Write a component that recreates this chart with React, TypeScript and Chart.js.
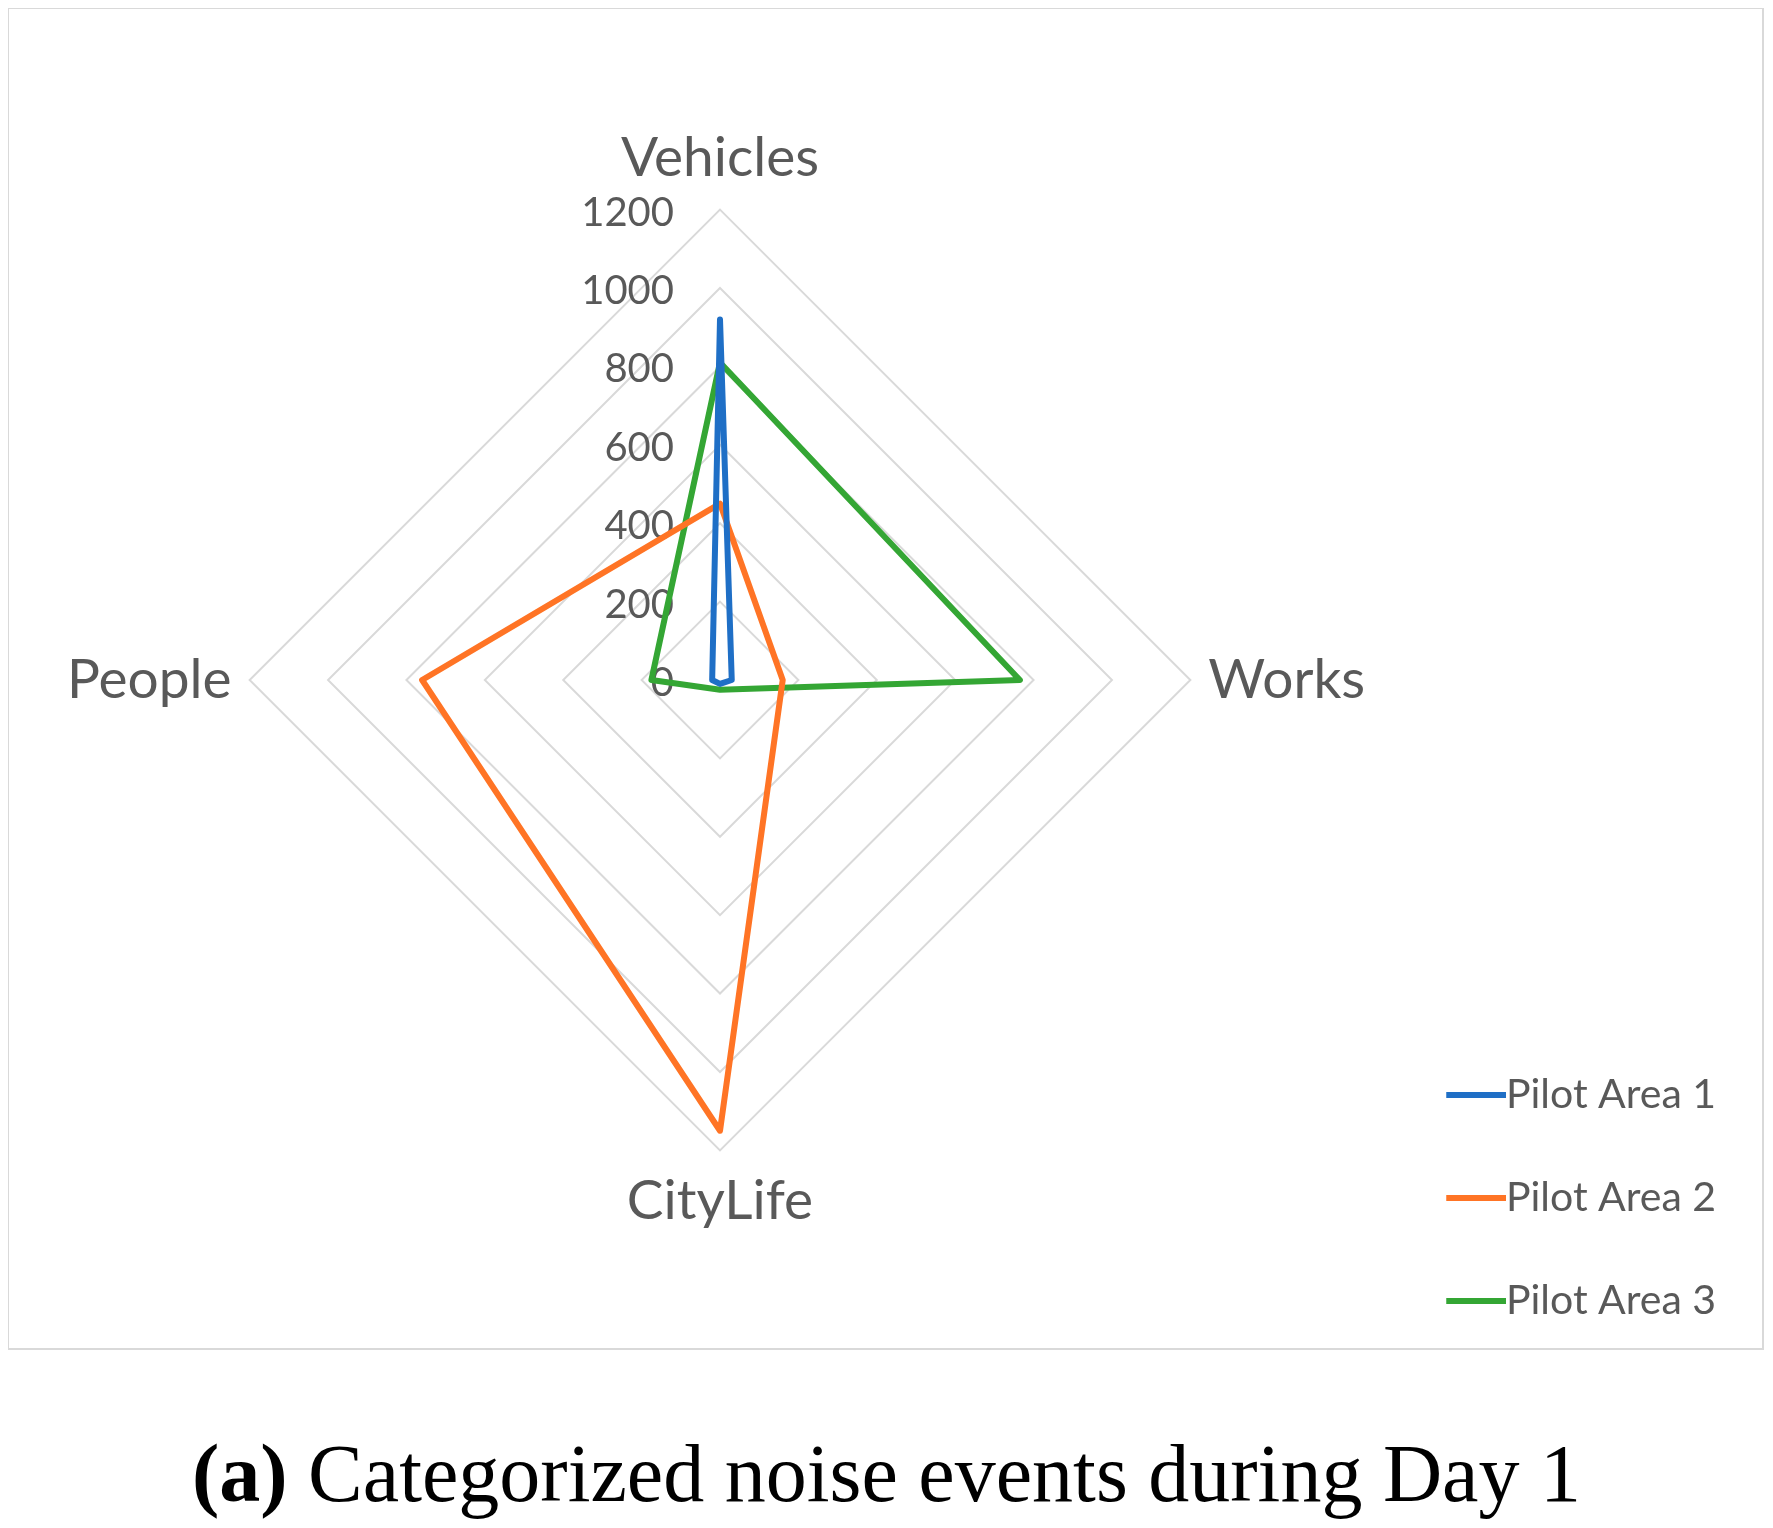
import React, { useEffect, useRef } from "react";
import { Chart, registerables } from "chart.js";

Chart.register(...registerables);

const categories = ["Vehicles", "Works", "CityLife", "People"];
const seriesNames = ["Pilot Area 1", "Pilot Area 2", "Pilot Area 3"];
const pilotArea1 = [920, 30, 10, 20];
const pilotArea2 = [450, 160, 1150, 760];
const pilotArea3 = [810, 765, 25, 175];
const seriesColors = ["#1F6FC6", "#FF7425", "#34A634"];
const tickMin = 0;
const tickMax = 1200;
const tickStep = 200;
const caption = "Categorized noise events during Day 1";

const CANVAS_W = 1751;
const CANVAS_H = 1406;
const LEGEND_FONT = 41;
const LEGEND_BOX = 53.5;
const LEGEND_TEXT_X = 1496;

function makeLineImage(color: string) {
  const w = Math.round(LEGEND_BOX + LEGEND_FONT);
  const c = document.createElement("canvas");
  c.width = w;
  c.height = 6;
  const g = c.getContext("2d")!;
  g.fillStyle = color;
  g.fillRect(w - 60, 0, 60, 6);
  return c;
}

const tickLabelPlugin = {
  id: "tickLabelsLeft",
  beforeDatasetsDraw(chart: any) {
    const scale = chart.scales.r;
    const ctx = chart.ctx;
    ctx.save();
    ctx.font = "40px Lato";
    ctx.fillStyle = "#595959";
    ctx.textAlign = "right";
    ctx.textBaseline = "middle";
    scale.ticks.forEach((t: any) => {
      const d = scale.getDistanceFromCenterForValue(t.value);
      ctx.fillText(String(t.value), scale.xCenter - 46, scale.yCenter - d + 3);
    });
    ctx.restore();
  },
};

export default function App() {
  const ref = useRef<HTMLCanvasElement | null>(null);
  useEffect(() => {
    if (!ref.current) return;
    const images = seriesColors.map(makeLineImage);
    const values = [pilotArea1, pilotArea2, pilotArea3];
    const mctx = document.createElement("canvas").getContext("2d")!;
    mctx.font = `normal ${LEGEND_FONT}px Lato`;
    const tw = Math.max(...seriesNames.map((s) => mctx.measureText(s).width));
    const padRight = Math.max(0, CANVAS_W - (LEGEND_TEXT_X + 10) - tw);
    const chart = new Chart(ref.current, {
      type: "radar",
      data: {
        labels: categories,
        datasets: values.map((v, i) => ({
          label: seriesNames[i],
          data: v,
          borderColor: seriesColors[i],
          backgroundColor: seriesColors[i],
          borderWidth: 6,
          borderJoinStyle: "round" as const,
          fill: false,
          pointRadius: 0,
          pointHoverRadius: 0,
          tension: 0,
        })),
      },
      options: {
        animation: false,
        responsive: false,
        devicePixelRatio: 1,
        layout: { padding: { left: 54, right: padRight, top: 0, bottom: 0 } },
        plugins: {
          tooltip: { enabled: false },
          legend: {
            position: "right",
            align: "end",
            labels: {
              usePointStyle: true,
              pointStyleWidth: LEGEND_BOX,
              padding: 103 - LEGEND_FONT,
              color: "#595959",
              font: { family: "Lato", size: LEGEND_FONT },
              generateLabels: (c: any) => {
                const items = (Chart as any).defaults.plugins.legend.labels.generateLabels(c);
                return items.map((it: any, i: number) => ({ ...it, pointStyle: images[i] }));
              },
            },
          },
        },
        scales: {
          r: {
            min: tickMin,
            max: tickMax,
            ticks: { stepSize: tickStep, display: false },
            grid: { color: "#D9D9D9", lineWidth: 2, circular: false },
            angleLines: { display: false },
            pointLabels: {
              color: "#595959",
              padding: 18,
              font: { family: "Lato", size: 55 },
            },
          },
        },
      },
      plugins: [tickLabelPlugin],
    });
    return () => chart.destroy();
  }, []);

  return (
    <div style={{ position: "relative", width: 1757, height: 1512 }}>
      <div
        style={{
          position: "absolute",
          left: -1,
          top: -1,
          width: 1757,
          height: 1343,
          border: "2px solid #D9D9D9",
          boxSizing: "border-box",
        }}
      />
      <canvas
        ref={ref}
        width={CANVAS_W}
        height={CANVAS_H}
        style={{ position: "absolute", left: 2, top: -31, width: CANVAS_W, height: CANVAS_H }}
      />
      <div
        style={{
          position: "absolute",
          left: 0,
          top: 1425,
          width: 1757,
          textAlign: "center",
          fontFamily: "'Liberation Serif', serif",
          fontSize: 82,
          lineHeight: 1,
          color: "#000",
          whiteSpace: "nowrap",
        }}
      >
        <b>(a)</b> {caption}
      </div>
    </div>
  );
}
